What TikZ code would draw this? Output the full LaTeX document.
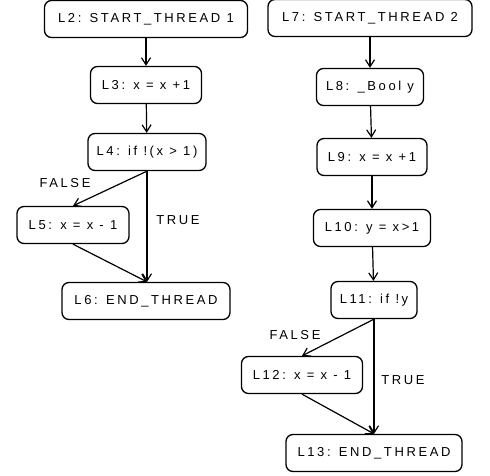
\documentclass[tikz,border=0pt]{standalone}
\usepackage{fontspec}
\setmainfont{Liberation Sans}[LetterSpace=20]
\usetikzlibrary{arrows.meta}
\begin{document}
\begin{tikzpicture}[x=1pt,y=-1pt,
  stmt/.style={draw, line width=1.3pt, rounded corners=7pt, minimum height=37pt,
    inner sep=2pt, font=\fontsize{13}{15}\selectfont},
  flow/.style={line width=1.2pt, -{Straight Barb[length=7pt,width=9pt,line width=1.2pt]}},
  lbl/.style={font=\fontsize{13}{15}\selectfont}]
\useasboundingbox (0,0) rectangle (490,476);
% thread 1
\node[stmt, minimum width=203pt] (l2) at (146,19) {L2: START\_THREAD 1};
\node[stmt, minimum width=111pt] (l3) at (146,85) {L3: x = x +1};
\node[stmt, minimum width=118pt] (l4) at (147,152) {L4: if !(x > 1)};
\node[stmt, minimum width=112pt] (l5) at (73,225) {L5: x = x - 1};
\node[stmt, minimum width=168pt] (l6) at (146,301) {L6: END\_THREAD};
\draw[flow] (l2) -- (l3);
\draw[flow] (l3) -- (l4);
\draw[flow] (l4.south) -- (l5.north);
\draw[flow] (l4.south) -- (l4.south |- l6.north);
\draw[flow] (l5.south) -- (l4.south |- l6.north);
\node[lbl] (f1) at (65,183) {FALSE};
\node[lbl] (t1) at (178,220) {TRUE};
% thread 2
\node[stmt, minimum width=204pt] (l7) at (370,18) {L7: START\_THREAD 2};
\node[stmt, minimum width=107pt] (l8) at (370,87) {L8: \_Bool y};
\node[stmt, minimum width=110pt] (l9) at (372,157) {L9: x = x +1};
\node[stmt, minimum width=117pt] (l10) at (372,228) {L10: y = x>1};
\node[stmt, minimum width=86pt] (l11) at (374,300) {L11: if !y};
\node[stmt, minimum width=121pt] (l12) at (302,375) {L12: x = x - 1};
\node[stmt, minimum width=176pt] (l13) at (374,453) {L13: END\_THREAD};
\draw[flow] (l7) -- (l8);
\draw[flow] (l8) -- (l9);
\draw[flow] (l9) -- (l10);
\draw[flow] (l10) -- (l11);
\draw[flow] (l11.south) -- (l12.north);
\draw[flow] (l11.south) -- (l13.north);
\draw[flow] (l12.south) -- (l13.north);
\node[lbl] (f2) at (295,335) {FALSE};
\node[lbl] (t2) at (403,380) {TRUE};
\end{tikzpicture}
\end{document}
